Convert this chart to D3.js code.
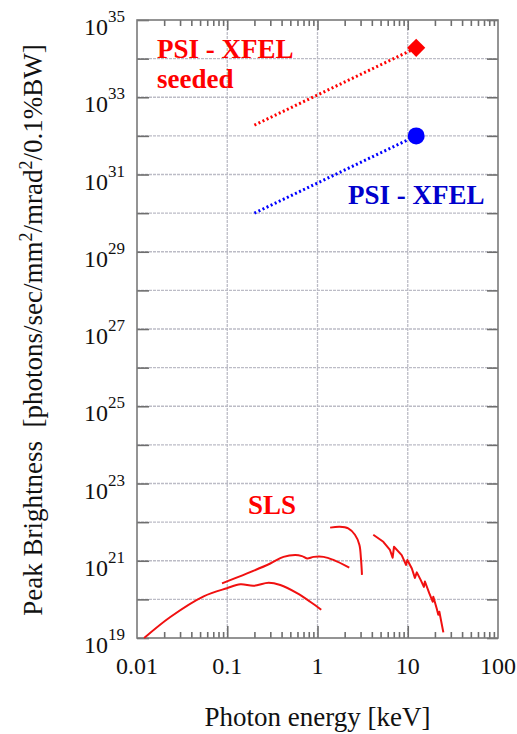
<!DOCTYPE html>
<html lang="en">
<head>
<meta charset="UTF-8">
<title>Peak Brightness vs Photon energy</title>
<style>
  body { margin: 0; background: #fff; }
  svg { display: block; }
  svg text { font-family: "Liberation Serif", "Times New Roman", Times, "DejaVu Serif", serif; }
  .grid line { stroke: #bcbcc6; stroke-width: 1.3; stroke-dasharray: 3,1; }
  .axis path { display: none; }
  .axis line { stroke: #6e6e6e; stroke-width: 1.6; }
  .lbl { font-size: 27px; font-weight: bold; }
</style>
</head>
<body>
<svg id="chart"></svg>
<script src="https://cdnjs.cloudflare.com/ajax/libs/d3/7.9.0/d3.min.js"></script>
<script>
// tick values
const xTicks = [0.01, 0.1, 1, 10, 100];
const xTickLabels = ["0.01", "0.1", "1", "10", "100"];
const yExponents = [19, 21, 23, 25, 27, 29, 31, 33, 35];

// PSI-XFEL lines [keV, brightness]
const xfelSeeded = [[0.2, 1.9e32], [12.4, 1.9e34]];
const xfel = [[0.2, 1.0e30], [12.4, 1.0e32]];

// SLS undulator curves [keV, brightness]
const slsLow = [
  [0.012, 1.0e19], [0.0234, 3.5e19], [0.0548, 1.2e20], [0.0993, 1.95e20],
  [0.14, 2.45e20], [0.196, 2.25e20], [0.288, 2.7e20], [0.387, 2.35e20],
  [0.593, 1.45e20], [0.83, 8.7e19], [1.10, 5.4e19]
];
const slsMid = [
  [0.0875, 2.6e20], [0.166, 4.7e20], [0.30, 8.5e20], [0.42, 1.26e21],
  [0.567, 1.41e21], [0.673, 1.32e21], [0.766, 1.15e21], [0.908, 1.26e21],
  [1.17, 1.26e21], [1.50, 1.05e21], [2.25, 6.6e20]
];
const slsHigh = [
  [1.38, 7.2e21], [1.77, 7.6e21], [2.19, 6.9e21], [2.60, 4.7e21],
  [2.91, 2.6e21], [3.03, 1.15e21], [3.11, 4.3e20]
];
const slsHard = [
  [4.15, 4.7e21], [5.36, 3.1e21], [6.35, 1.9e21], [6.80, 1.2e21],
  [7.04, 2.3e21], [8.57, 1.4e21], [9.57, 7.8e20], [9.9, 1.05e21],
  [11.1, 6.3e20], [12.0, 3.6e20], [12.6, 5.0e20], [13.9, 3.2e20],
  [15.1, 2.1e20], [15.5, 2.9e20], [17.3, 1.45e20], [18.9, 8.7e19],
  [19.2, 1.17e20], [20.9, 5.9e19], [21.8, 4.0e19], [22.4, 4.8e19],
  [24.8, 1.4e19]
];

const w = 517, h = 734;
const pLeft = 137, pRight = 498, pTop = 20, pBottom = 638;

const svg = d3.select("#chart").attr("width", w).attr("height", h);

const x = d3.scaleLog().domain([0.01, 100]).range([pLeft, pRight]);
const y = d3.scaleLog().domain([1e19, 1e35]).range([pBottom, pTop]);

const decadesY = d3.range(19, 36).map(e => Math.pow(10, e));
const minorX = [];
[0.01, 0.1, 1, 10].forEach(d => { for (let m = 2; m <= 9; m++) minorX.push(d * m); });

// grid
const grid = svg.append("g").attr("class", "grid");
grid.selectAll(".gx").data([0.1, 1, 10]).enter().append("line")
  .attr("x1", d => x(d)).attr("x2", d => x(d))
  .attr("y1", pTop).attr("y2", pBottom);
grid.selectAll(".gy").data(decadesY.slice(1, -1)).enter().append("line")
  .attr("x1", pLeft).attr("x2", pRight)
  .attr("y1", d => y(d)).attr("y2", d => y(d));

// ticks (all pointing inward)
svg.append("g").attr("class", "axis").attr("transform", `translate(0,${pBottom})`)
  .call(d3.axisBottom(x).tickValues(minorX).tickSize(-6).tickFormat(""));
svg.append("g").attr("class", "axis").attr("transform", `translate(0,${pBottom})`)
  .call(d3.axisBottom(x).tickValues([0.1, 1, 10]).tickSize(-12).tickFormat(""));
svg.append("g").attr("class", "axis").attr("transform", `translate(0,${pTop})`)
  .call(d3.axisTop(x).tickValues(minorX).tickSize(-6).tickFormat(""));
svg.append("g").attr("class", "axis").attr("transform", `translate(0,${pTop})`)
  .call(d3.axisTop(x).tickValues([0.1, 1, 10]).tickSize(-10).tickFormat(""));
svg.append("g").attr("class", "axis").attr("transform", `translate(${pLeft},0)`)
  .call(d3.axisLeft(y).tickValues(decadesY).tickSize(-12).tickFormat(""));
svg.append("g").attr("class", "axis").attr("transform", `translate(${pRight},0)`)
  .call(d3.axisRight(y).tickValues(decadesY).tickSize(-11).tickFormat(""));

// frame
svg.append("rect")
  .attr("x", pLeft).attr("y", pTop)
  .attr("width", pRight - pLeft).attr("height", pBottom - pTop)
  .attr("fill", "none").attr("stroke", "#7a7a7a").attr("stroke-width", 1.6);

// x tick labels
svg.selectAll(".xl").data(xTicks).enter().append("text")
  .attr("x", d => x(d)).attr("y", pBottom + 36)
  .attr("text-anchor", "middle").attr("font-size", 24).attr("fill", "#111")
  .text((d, i) => xTickLabels[i]);

// y tick labels 10^n
const yl = svg.selectAll(".yl").data(yExponents).enter().append("text")
  .attr("x", 125).attr("y", d => y(Math.pow(10, d)) + 15)
  .attr("text-anchor", "end").attr("fill", "#111");
yl.append("tspan").attr("font-size", 24).text("10");
yl.append("tspan").attr("font-size", 17).attr("dy", -13).text(d => d);

// axis titles
svg.append("text")
  .attr("x", (pLeft + pRight) / 2).attr("y", 726)
  .attr("text-anchor", "middle").attr("font-size", 27).attr("fill", "#111")
  .text("Photon energy [keV]");

const yt = svg.append("text")
  .attr("transform", "translate(42,330) rotate(-90)")
  .attr("text-anchor", "middle").attr("font-size", 27).attr("fill", "#111")
  .style("white-space", "pre");
yt.append("tspan").text("Peak Brightness  [photons/sec/mm");
yt.append("tspan").attr("font-size", 18).attr("dy", -10).text("2");
yt.append("tspan").attr("dy", 10).text("/mrad");
yt.append("tspan").attr("font-size", 18).attr("dy", -10).text("2");
yt.append("tspan").attr("dy", 10).text("/0.1%BW]");

// SLS curves
const smooth = d3.line().x(d => x(d[0])).y(d => y(d[1])).curve(d3.curveCatmullRom);
const straight = d3.line().x(d => x(d[0])).y(d => y(d[1]));
[slsLow, slsMid, slsHigh].forEach(c => {
  svg.append("path").datum(c).attr("d", smooth)
    .attr("fill", "none").attr("stroke", "#f01010").attr("stroke-width", 2);
});
svg.append("path").datum(slsHard).attr("d", straight)
  .attr("fill", "none").attr("stroke", "#f01010").attr("stroke-width", 2)
  .attr("stroke-linejoin", "round");

// XFEL lines
svg.append("path").datum(xfelSeeded).attr("d", straight)
  .attr("fill", "none").attr("stroke", "#ff0000").attr("stroke-width", 3)
  .attr("stroke-dasharray", "2,2.5");
svg.append("path").datum(xfel).attr("d", straight)
  .attr("fill", "none").attr("stroke", "#0000ff").attr("stroke-width", 3)
  .attr("stroke-dasharray", "2,2.5");

// end markers
const endS = xfelSeeded[xfelSeeded.length - 1];
svg.append("path")
  .attr("d", d3.symbol().type(d3.symbolSquare).size(165))
  .attr("transform", `translate(${x(endS[0])},${y(endS[1])}) rotate(45)`)
  .attr("fill", "#ff0000");
const endB = xfel[xfel.length - 1];
svg.append("circle")
  .attr("cx", x(endB[0])).attr("cy", y(endB[1])).attr("r", 8.5)
  .attr("fill", "#0000ff");

// labels
svg.append("text").attr("class", "lbl").attr("x", 157).attr("y", 58)
  .attr("fill", "#ff0000").text("PSI - XFEL");
svg.append("text").attr("class", "lbl").attr("x", 157).attr("y", 88)
  .attr("fill", "#ff0000").text("seeded");
svg.append("text").attr("class", "lbl").attr("x", 348).attr("y", 204)
  .attr("fill", "#0000cc").text("PSI - XFEL");
svg.append("text").attr("class", "lbl").attr("x", 248).attr("y", 514)
  .attr("fill", "#ff0000").text("SLS");
</script>
</body>
</html>
